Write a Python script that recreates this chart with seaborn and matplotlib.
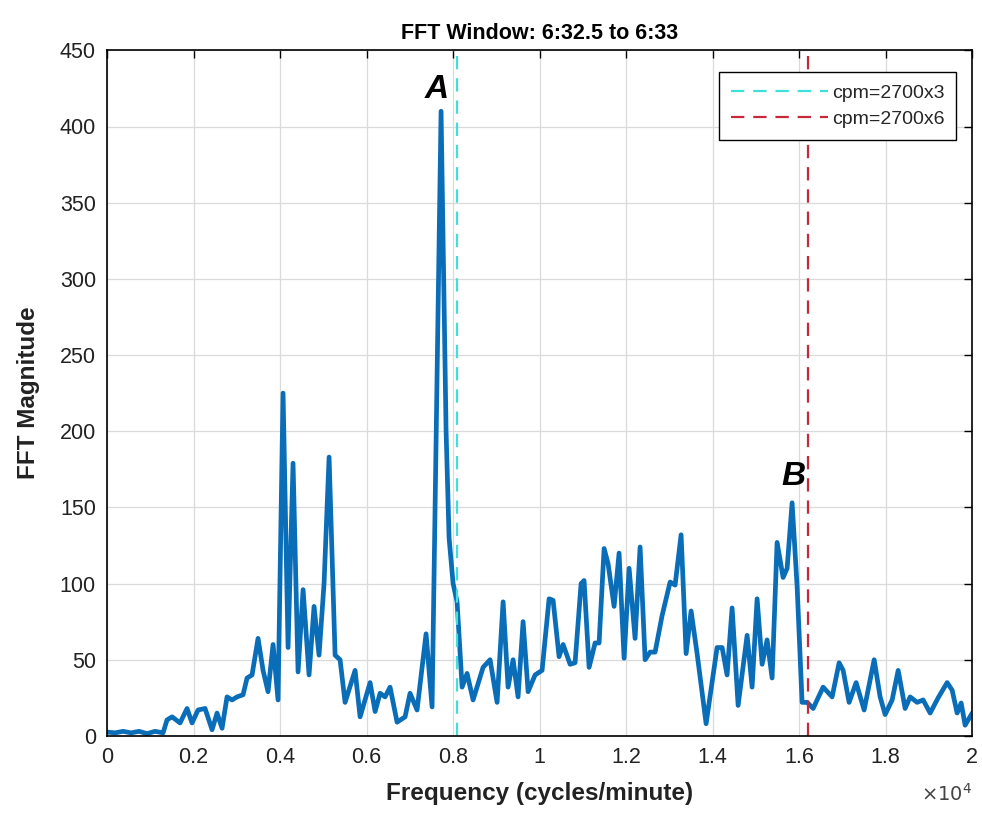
import numpy as np
import pandas as pd
import matplotlib
matplotlib.use("Agg")
import matplotlib.pyplot as plt
import seaborn as sns
from matplotlib.ticker import FuncFormatter, MultipleLocator

# FFT spectrum (frequency in cycles/minute)
freq_cpm = [0, 185, 370, 555, 740, 925, 1110, 1295, 1387, 1503, 1688, 1850, 1965, 2104,
            2266, 2428, 2543, 2659, 2774, 2890, 3006, 3144, 3237, 3352, 3491, 3607, 3722,
            3838, 3953, 4069, 4185, 4300, 4416, 4532, 4670, 4786, 4901, 5017, 5133, 5272,
            5387, 5503, 5734, 5850, 6081, 6197, 6312, 6427, 6543, 6705, 6890, 7005, 7167,
            7375, 7514, 7722, 7838, 7907, 8000, 8092, 8208, 8323, 8462, 8693, 8855, 9017,
            9156, 9271, 9387, 9502, 9618, 9734, 9895, 10057, 10219, 10312, 10450, 10543,
            10705, 10820, 10959, 11028, 11144, 11283, 11375, 11491, 11583, 11722, 11837,
            11953, 12069, 12207, 12323, 12439, 12554, 12670, 12832, 13017, 13132, 13271,
            13387, 13502, 13641, 13849, 14103, 14219, 14334, 14450, 14589, 14797, 14912,
            15028, 15144, 15259, 15375, 15490, 15629, 15722, 15837, 15953, 16068, 16184,
            16323, 16554, 16762, 16924, 17017, 17155, 17317, 17502, 17734, 17872, 17988,
            18150, 18289, 18450, 18566, 18727, 18866, 19028, 19213, 19421, 19537, 19652,
            19745, 19837, 20000]
fft_mag = [2.5, 2, 3, 2, 3, 1.5, 3, 2, 10.5, 12.5, 8.5, 18, 8.5, 17,
           18, 4, 15, 5, 25.6, 23.6, 25.6, 27, 38, 40, 64, 43, 29,
           60, 23.6, 225, 58, 179, 42, 96, 40, 85, 53, 100, 183, 53,
           50, 22, 43, 12.5, 35, 16, 28, 25.6, 32, 9, 12.5, 28, 17,
           67, 19, 410, 200, 130, 100, 88, 32, 41, 23.6, 45, 50, 22,
           88, 32, 50, 25.6, 75, 29, 40, 43, 90, 89, 52, 60,
           47, 48, 100, 102, 45, 61, 61, 123, 113, 85, 120,
           51, 110, 64, 124, 50, 55, 55, 79, 101, 99, 132,
           54, 82, 54, 8, 58, 58, 40, 84, 20, 66, 32,
           90, 47, 63, 38, 127, 104, 110, 153, 98, 22,
           22, 18, 32, 25.6, 48, 43, 22, 35, 17, 50, 25.6, 14,
           23.6, 43, 18, 25.6, 22, 23.6, 15, 25, 35, 30, 15,
           21.6, 7, 15]

base_cpm = 2700
harmonics = [3, 6]
harmonic_colors = ["#3FE0DA", "#C8283C"]
peak_labels = ["A", "B"]
peak_label_pos = [(7630, 424), (15860, 170)]

df = pd.DataFrame({"freq": freq_cpm, "mag": fft_mag})

sns.set_theme(style="whitegrid")
plt.rcParams["font.family"] = ["Liberation Sans", "DejaVu Sans"]

fig = plt.figure(figsize=(9.82, 8.25), dpi=100)
ax = fig.add_axes([0.109, 0.108, 0.881, 0.831])
ax.set_facecolor("white")

sns.lineplot(data=df, x="freq", y="mag", color="#0A6DB8", linewidth=3.4, ax=ax, sort=False)

for h, c in zip(harmonics, harmonic_colors):
    ax.axvline(base_cpm * h, color=c, linestyle=(0, (6, 4)), linewidth=1.6,
               label=f"cpm={base_cpm}x{h}")

for lab, (lx, ly) in zip(peak_labels, peak_label_pos):
    ax.text(lx, ly, lab, fontsize=24, fontweight="bold", fontstyle="italic",
            ha="center", va="center", color="black")

ax.set_xlim(0, 20000)
ax.set_ylim(0, 450)
ax.xaxis.set_major_locator(MultipleLocator(2000))
ax.yaxis.set_major_locator(MultipleLocator(50))
ax.xaxis.set_major_formatter(FuncFormatter(lambda v, p: f"{v/1e4:g}"))
ax.grid(True, color="#DADADA", linewidth=0.9)
ax.tick_params(direction="in", length=6, width=1, top=True, right=True,
               labelsize=15.5, colors="black", labelcolor="#222222", pad=8)
for s in ax.spines.values():
    s.set_color("black")
    s.set_linewidth(1.2)

ax.set_xlabel("Frequency (cycles/minute)", fontsize=17.5, fontweight="bold",
              labelpad=10, color="#222222")
ax.set_ylabel("FFT Magnitude", fontsize=17.5, fontweight="bold", labelpad=14,
              color="#222222")
ax.set_title("FFT Window: 6:32.5 to 6:33", fontsize=15.5, fontweight="bold", pad=8,
             color="black")
ax.text(1.0, -0.085, r"$\times10^4$", transform=ax.transAxes, fontsize=14,
        ha="right", va="center", color="#444444")

handles, labels = ax.get_legend_handles_labels()
leg = ax.legend(handles[-2:], labels[-2:], loc="upper right", fontsize=14,
                handlelength=5, handletextpad=0.2, borderpad=0.6, labelspacing=0.45,
                fancybox=False, framealpha=1, edgecolor="black",
                bbox_to_anchor=(0.993, 0.982))
leg.get_frame().set_linewidth(1.0)

fig.savefig("out.png", dpi=100)
